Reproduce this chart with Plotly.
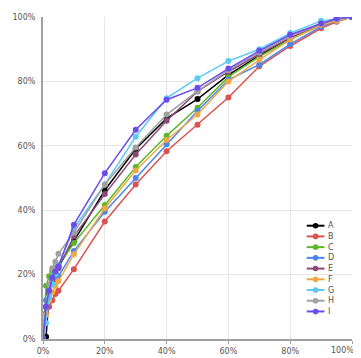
import plotly.graph_objects as go

x_pct = [0, 1, 2, 3, 4, 5, 10, 20, 30, 40, 50, 60, 70, 80, 90, 95, 100]

series_names = ["A", "B", "C", "D", "E", "F", "G", "H", "I"]
A = [0, 0.7, 14, 18, 20.5, 22.5, 30.4, 46.2, 59, 68.5, 74.5, 82, 88, 93.5, 97.5, 99, 100]
B = [0, 8, 10, 12, 14, 15, 21.7, 36.5, 48, 58.3, 66.5, 75, 84.7, 91, 96.5, 98.5, 100]
C = [0, 16.5, 19.5, 21, 22, 23, 29.8, 41.6, 53.4, 63.1, 71.8, 81.4, 87.7, 93, 97.5, 99, 100]
D = [0, 12, 15, 17, 18.5, 19.5, 27.3, 39.5, 50, 60.5, 70.8, 80.5, 85.2, 91.6, 97, 98.8, 100]
E = [0, 10, 15, 18, 20, 22, 31.9, 45, 57.3, 67.8, 76.9, 83, 88.5, 93.5, 97.8, 99, 100]
F = [0, 7.5, 12, 14.5, 16.5, 18, 26.3, 40.6, 52.3, 61.8, 69.7, 80, 86.7, 93, 97.5, 98.8, 100]
G = [0, 5, 13, 17, 20, 23, 34.4, 48, 62.8, 74.8, 81, 86.3, 90, 95, 98.8, 99.5, 100]
H = [0, 10, 17, 22, 24, 26.5, 33, 48, 59.5, 69.7, 77, 83.5, 89, 94, 98, 99.3, 100]
I = [0, 10, 15, 19, 21, 22.5, 35.5, 51.5, 65, 74.3, 78, 84, 89.5, 94.5, 98, 99.5, 100]
series_values = [A, B, C, D, E, F, G, H, I]

colors = ["#000000", "#d9534f", "#5cb82a", "#4a86f0", "#8a4a78",
          "#f0a845", "#5bcaf5", "#a0a0a0", "#6a4cf0"]

tick_vals = [0, 20, 40, 60, 80, 100]
tick_text = ["0%", "20%", "40%", "60%", "80%", "100%"]

fig = go.Figure()
for name, vals, col in zip(series_names, series_values, colors):
    fig.add_trace(go.Scatter(
        x=x_pct, y=vals, name=name, mode="lines+markers",
        line=dict(color=col, width=1.5),
        marker=dict(color=col, size=6, symbol="circle"),
        showlegend=False,
    ))

# window pixel positions converted to paper coords
L, T, PW, PH = 38, 13, 314, 326
def px_x(p):
    return (p - L) / PW
def px_y(p):
    return (T + PH - p) / PH

label_font = dict(family="DejaVu Sans", size=8, color="#555555")

# custom compact legend
shapes = [dict(type="rect", xref="paper", yref="paper",
               x0=px_x(304), x1=px_x(337), y0=px_y(318), y1=px_y(216),
               fillcolor="white", line=dict(width=0), layer="between")]
annotations = []
for i, (name, col) in enumerate(zip(series_names, colors)):
    cy = 224.3 + 10.85 * i
    shapes.append(dict(type="line", xref="paper", yref="paper",
                       x0=px_x(306), x1=px_x(324), y0=px_y(cy), y1=px_y(cy),
                       line=dict(color=col, width=2), layer="above"))
    shapes.append(dict(type="circle", xref="paper", yref="paper",
                       xsizemode="pixel", ysizemode="pixel",
                       xanchor=px_x(315), yanchor=px_y(cy),
                       x0=-2.8, x1=2.8, y0=-2.8, y1=2.8,
                       fillcolor=col, line=dict(color=col, width=0), layer="above"))
    annotations.append(dict(xref="paper", yref="paper", x=px_x(326), y=px_y(cy),
                            text=name, showarrow=False, xanchor="left", yanchor="middle",
                            font=label_font))

# last x tick label, kept inside the window's right edge
x_tick_text = tick_text[:-1] + [""]
annotations.append(dict(xref="paper", yref="paper", x=px_x(356), y=px_y(351),
                        text=tick_text[-1], showarrow=False, xanchor="right",
                        yanchor="middle", font=label_font))

axis_common = dict(range=[0, 100], tickvals=tick_vals,
                   showgrid=True, gridcolor="#e6e6e6", gridwidth=1,
                   zeroline=False, showline=True, linecolor="#a0a0a0", linewidth=2,
                   tickfont=label_font, fixedrange=True)

# page body adds an 8px offset, so margins compensate for it
fig.update_layout(
    width=361, height=358,
    margin=dict(l=30, r=17, t=5, b=27),
    paper_bgcolor="white", plot_bgcolor="white",
    xaxis=dict(**axis_common, ticktext=x_tick_text,
               ticks="outside", ticklen=3, tickcolor="#a0a0a0"),
    yaxis=dict(**axis_common, ticktext=tick_text, ticks="", ticklabelstandoff=4),
    shapes=shapes, annotations=annotations,
    showlegend=False,
)

fig.write_html("out.html")
